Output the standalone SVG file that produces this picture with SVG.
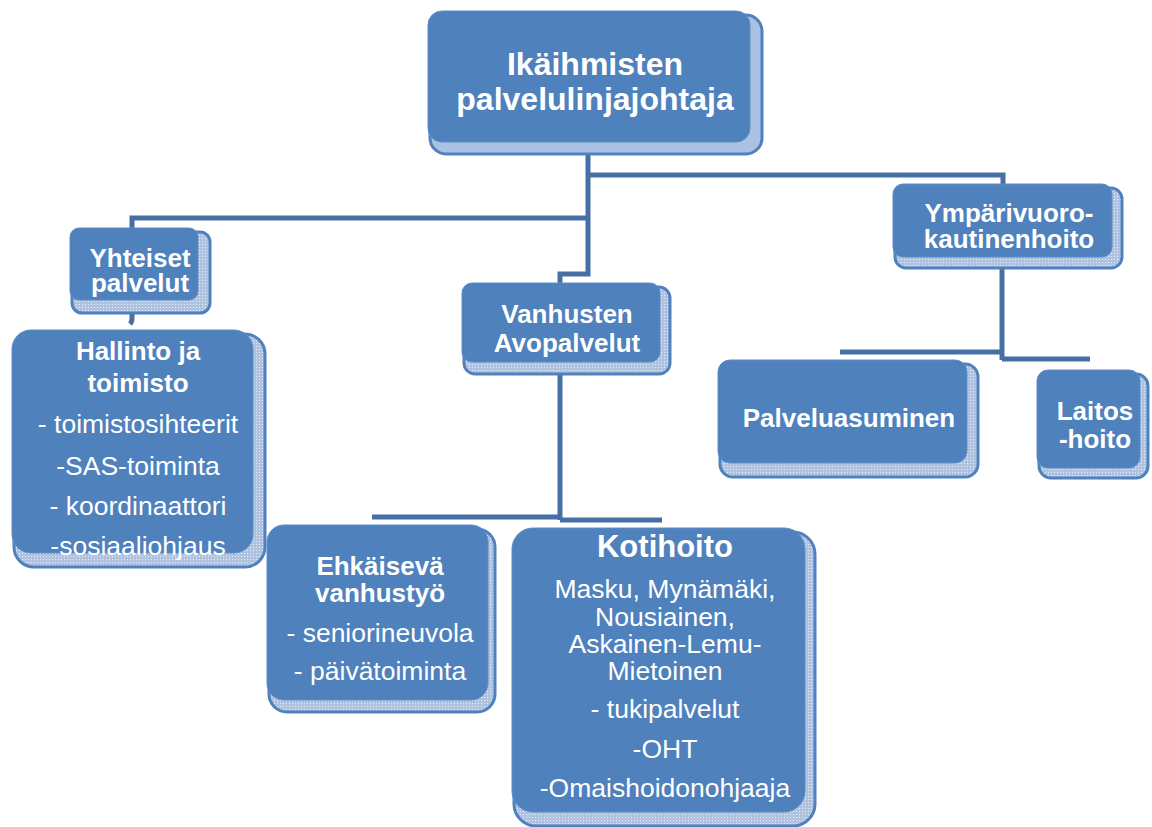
<svg xmlns="http://www.w3.org/2000/svg" width="1152" height="827" viewBox="0 0 1152 827">
<defs>
<pattern id="dots" width="3" height="3" patternUnits="userSpaceOnUse">
<rect width="3" height="3" fill="#AFC3E0"/>
<rect x="1" y="1" width="1" height="1" fill="#E8EEF7"/>
</pattern>
</defs>
<style>
.back{fill:url(#dots);stroke:#4F81BD;stroke-width:3}
.backsolid{fill:#A9C1E2;stroke:#4F81BD;stroke-width:3}
.front{fill:#4F81BD;stroke:#5D8CC6;stroke-width:1}
.t{font-family:"Liberation Sans",Arial,sans-serif;fill:#FFFFFF;text-anchor:middle}
.b{font-weight:bold;font-size:26px}
.r{font-size:26.5px}
.conn{stroke:#4670A5;stroke-width:5;fill:none;stroke-linejoin:miter}
</style>
<rect width="1152" height="827" fill="#FFFFFF"/>
<g id="connectors">
<path class="conn" d="M588,154 V274 H560 V284"/>
<path class="conn" d="M588,175 H1003 V185"/>
<path class="conn" d="M588,218 H132 V229"/>
<path class="conn" d="M132,313 V318 Q132,322 130,324"/>
<path class="conn" d="M560,374 V520"/>
<path class="conn" d="M560,517 H372"/>
<path class="conn" d="M560,520 H662"/>
<path class="conn" d="M1002,268 V360"/>
<path class="conn" d="M1002,352 H840"/>
<path class="conn" d="M1002,359 H1090"/>
</g>
<g id="top">
<rect class="backsolid" x="430" y="15" width="332" height="139" rx="16"/>
<rect class="front" x="428" y="11" width="322" height="131" rx="14"/>
<text class="t" x="595" y="75" font-weight="bold" font-size="32">Ikäihmisten</text>
<text class="t" x="595" y="110" font-weight="bold" font-size="32">palvelulinjajohtaja</text>
</g>
<g id="yhteiset">
<rect class="back" x="72" y="232" width="138" height="81" rx="10"/>
<rect class="front" x="70" y="228" width="128" height="72" rx="9"/>
<text class="t b" x="140" y="267">Yhteiset</text>
<text class="t b" x="140" y="292">palvelut</text>
</g>
<g id="hallinto">
<rect class="back" x="14" y="334" width="251" height="233" rx="20"/>
<rect class="front" x="12" y="330" width="241" height="223" rx="19"/>
<text class="t b" x="138" y="360">Hallinto ja</text>
<text class="t b" x="138" y="392">toimisto</text>
<text class="t r" x="138" y="433">- toimistosihteerit</text>
<text class="t r" x="138" y="475">-SAS-toiminta</text>
<text class="t r" x="138" y="515">- koordinaattori</text>
<text class="t r" x="138" y="555">-sosiaaliohjaus</text>
</g>
<g id="vanhusten">
<rect class="back" x="464" y="287" width="206" height="87" rx="11"/>
<rect class="front" x="462" y="283" width="198" height="79" rx="10"/>
<text class="t b" x="567" y="323">Vanhusten</text>
<text class="t b" x="567" y="352">Avopalvelut</text>
</g>
<g id="ehkaiseva">
<rect class="back" x="269" y="529" width="226" height="183" rx="18"/>
<rect class="front" x="267" y="525" width="221" height="175" rx="17"/>
<text class="t b" x="380" y="575">Ehkäisevä</text>
<text class="t b" x="380" y="602">vanhustyö</text>
<text class="t r" x="380" y="642">- seniorineuvola</text>
<text class="t r" x="380" y="680">- päivätoiminta</text>
</g>
<g id="kotihoito">
<rect class="back" x="514" y="532" width="301" height="294" rx="22"/>
<rect class="front" x="512" y="528" width="293" height="284" rx="21"/>
<text class="t" x="665" y="557" font-weight="bold" font-size="31">Kotihoito</text>
<text class="t r" x="665" y="598">Masku, Mynämäki,</text>
<text class="t r" x="665" y="626">Nousiainen,</text>
<text class="t r" x="665" y="653">Askainen-Lemu-</text>
<text class="t r" x="665" y="680">Mietoinen</text>
<text class="t r" x="665" y="718">- tukipalvelut</text>
<text class="t r" x="665" y="758">-OHT</text>
<text class="t r" x="665" y="797">-Omaishoidonohjaaja</text>
</g>
<g id="ymparivuoro">
<rect class="back" x="895" y="188" width="227" height="80" rx="11"/>
<rect class="front" x="893" y="184" width="219" height="73" rx="10"/>
<text class="t b" x="1009" y="222">Ympärivuoro-</text>
<text class="t b" x="1009" y="248">kautinenhoito</text>
</g>
<g id="palveluasuminen">
<rect class="back" x="720" y="364" width="258" height="113" rx="13"/>
<rect class="front" x="718" y="360" width="249" height="103" rx="12"/>
<text class="t b" x="849" y="427">Palveluasuminen</text>
</g>
<g id="laitos">
<rect class="back" x="1039" y="374" width="109" height="104" rx="12"/>
<rect class="front" x="1037" y="370" width="103" height="98" rx="11"/>
<text class="t b" x="1095" y="420">Laitos</text>
<text class="t b" x="1095" y="448">-hoito</text>
</g>
</svg>
